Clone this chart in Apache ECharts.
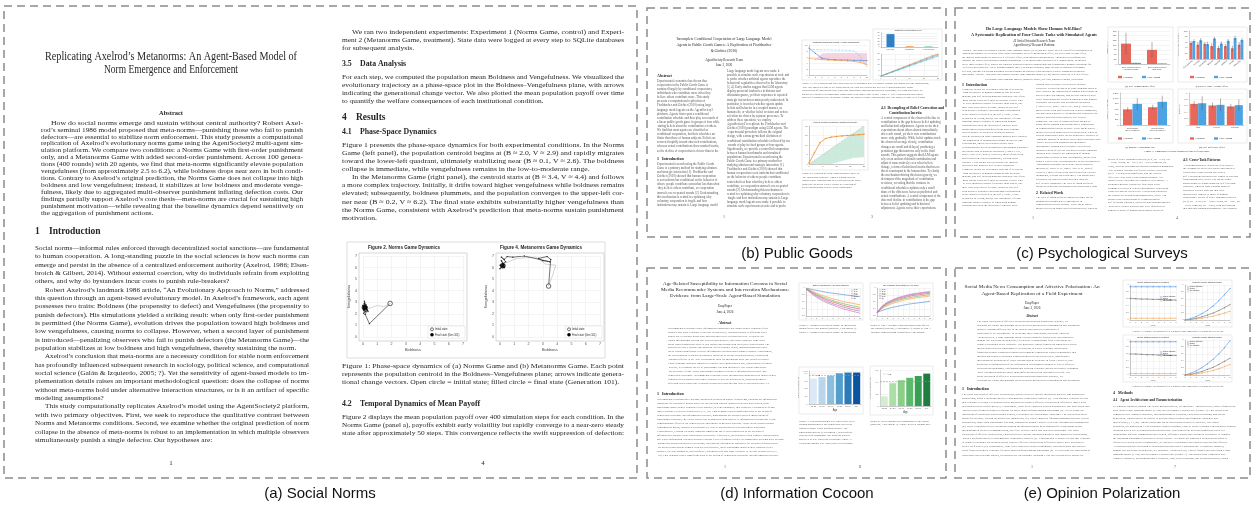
<!DOCTYPE html>
<html>
<head>
<meta charset="utf-8">
<title>Agent-based replication studies</title>
<script src="https://cdn.jsdelivr.net/npm/echarts@6.0.0/dist/echarts.min.js"></script>
<style>
html,body{margin:0;padding:0;background:#ffffff;}
#chart{width:1253px;height:510px;}
</style>
</head>
<body>
<div id="chart"></div>
<script>
// ===================== data =====================
// (a) Social Norms: population centroid per generation (Boldness, Vengefulness)
const phaseTicks = [0, 1, 2, 3, 4, 5, 6, 7];
const normsPath = [[1.9, 2.9], [0.45, 1.15], [0.15, 1.95], [0.3, 2.3], [0.05, 2.05], [0.2, 2.8], [0.35, 2.2], [0.1, 3.1], [0.05, 2.4], [0.3, 2.6], [0.15, 2.2], [0.0, 2.75], [0.25, 2.35], [0.1, 2.9], [0.05, 2.3], [0.2, 2.5], [0.1, 2.55]];
const normsDrift = [[1.9, 2.9], [1.45, 2.62], [1.0, 2.72], [0.6, 2.55], [0.3, 2.45]];
const metaPath = [[3.4, 4.4], [3.55, 6.7], [3.3, 6.95], [2.7, 6.8], [3.0, 6.6], [3.5, 6.5], [1.7, 7.0], [0.9, 6.9], [0.5, 6.95], [0.3, 6.7], [0.1, 6.9], [0.4, 6.5], [0.0, 6.2], [0.3, 6.0], [0.1, 6.6], [0.25, 6.3], [0.0, 5.9], [0.2, 6.15]];
const metaDrift = [[3.4, 4.4], [3.7, 5.4], [3.9, 6.2], [3.2, 6.3], [2.5, 6.9], [1.2, 6.8], [0.4, 6.4]];

// (b) Public Goods
const pgRounds = ['1', '2', '3', '4', '5', '6', '7', '8', '9', '10'];
const pgActual = [5.6, 5.3, 5.1, 5.0, 4.9, 4.8, 4.7, 4.5, 4.2, 3.4];
const pgBelief = [9.0, 7.2, 5.6, 5.2, 5.1, 5.0, 5.0, 4.9, 4.9, 4.8];
const pgPredicted = [8.6, 8.5, 8.4, 8.4, 8.3, 8.3, 8.2, 8.0, 6.2, 2.6];
const pgGapTop = [2.0, 4.6, 7.2, 7.3, 7.3, 7.3, 7.3, 7.3, 7.3, 7.3];
const pgTypes = ['Free rider', 'Conditional', 'Hump-shaped'];
const pgTypeShare = [46, 3, 2];
const pgOthers = [0, 2, 4, 6, 8, 10, 12, 14, 16, 18, 20];
const pgSchedHigh = [0, 2.1, 4.1, 6.2, 8.2, 10.3, 12.3, 14.4, 16.4, 18.5, 20];
const pgSchedMid = [0, 1.9, 3.9, 5.8, 7.7, 9.7, 11.6, 13.6, 15.5, 17.4, 19.3];
const pgSchedLow = [0, 1.8, 3.6, 5.4, 7.2, 9.0, 10.9, 12.7, 14.5, 16.3, 18.1];
const pgFig2Own = [0.5, 6.0, 11.2, 13.4, 14.1, 14.5, 14.8, 15.0, 15.2, 15.4, 15.6];
const pgFig2Upper = [0.5, 6.0, 11.2, 15.0, 17.2, 18.0, 18.3, 18.5, 18.7, 18.9, 19.0];

// (c) Psychological Surveys
const seCats = ['Self-enhancement\n(Cultural traits)', 'Self-enhancement\n(Big Two)'];
const seHumans = [108, 75], seHumansErr = [58, 42];
const seLLM = [6, 3], seLLMErr = [2, 1.5];
const sbCats = ['Competence', 'Morality', 'Sociability', 'Warmth', 'Agency', 'Intellect', 'Health', 'Attractive'];
const sbHumans = [57, 51, 54, 46, 39, 46, 38, 51], sbHumansErr = [8, 9, 7, 10, 9, 8, 10, 9];
const sbLLM = [64, 67, 53, 73, 55, 65, 75, 68], sbLLMErr = [7, 8, 9, 6, 8, 7, 8, 7];
const iatCats = ['Compatible\n(Self+Positive)', 'Incompatible\n(Self+Negative)'];
const iatHumans = [585, 665], iatHumansErr = [85, 95];
const iatLLM = [790, 870], iatLLMErr = [220, 230];
const srCats = ['Self', 'Friend', 'Familiar'];
const srHumans = [0.66, 0.61, 0.58], srHumansErr = [0.09, 0.09, 0.08];
const srLLM = [0.68, 0.63, 0.62], srLLMErr = [0.22, 0.2, 0.18];

// (d) Information Cocoon
const ageGroups = ['18-23', '24-30', '31-40', '41-50', '51-60', '60+'];
const cocoonRounds = ['0', '1', '2', '3', '4', '5', '6', '7', '8', '9', '10'];
const entropy1823 = [1.0, 0.96, 0.93, 0.9, 0.87, 0.85, 0.83, 0.81, 0.79, 0.77, 0.75];
const entropy2430 = [1.0, 0.92, 0.85, 0.79, 0.74, 0.69, 0.65, 0.61, 0.58, 0.55, 0.52];
const entropy3140 = [0.99, 0.9, 0.82, 0.75, 0.69, 0.64, 0.59, 0.55, 0.51, 0.48, 0.45];
const entropy4150 = [0.98, 0.88, 0.79, 0.72, 0.65, 0.6, 0.55, 0.5, 0.46, 0.43, 0.4];
const entropy5160 = [0.98, 0.86, 0.76, 0.68, 0.61, 0.55, 0.5, 0.45, 0.41, 0.37, 0.34];
const entropy60p = [0.97, 0.84, 0.73, 0.64, 0.57, 0.51, 0.45, 0.4, 0.36, 0.32, 0.28];
const top3c1823 = [0.3, 0.36, 0.41, 0.45, 0.48, 0.51, 0.54, 0.56, 0.58, 0.6, 0.62];
const top3c2430 = [0.3, 0.42, 0.5, 0.56, 0.61, 0.65, 0.68, 0.71, 0.73, 0.75, 0.77];
const top3c3140 = [0.3, 0.44, 0.53, 0.6, 0.65, 0.69, 0.72, 0.75, 0.77, 0.79, 0.81];
const top3c4150 = [0.3, 0.46, 0.56, 0.63, 0.68, 0.72, 0.76, 0.79, 0.81, 0.83, 0.85];
const top3c5160 = [0.3, 0.48, 0.58, 0.65, 0.71, 0.75, 0.79, 0.82, 0.84, 0.86, 0.88];
const top3c60p = [0.3, 0.49, 0.6, 0.67, 0.73, 0.77, 0.81, 0.84, 0.86, 0.88, 0.9];
const realDeepShare = [0.33, 0.35, 0.37, 0.40, 0.41, 0.41];
const realDeepAvg = 0.38;
const simDeepShare = [0.16, 0.38, 0.43, 0.47, 0.50, 0.54];
const simDeepAvg = 0.41;

// (e) Opinion Polarization
const weeks = ['0', '1', '2', '3', '4', '5', '6', '7', '8'];
const exposureTreat = [0.95, 0.95, 0.95, 0.95, 0.95, 0.95, 0.95, 0.95, 0.95];
const exposureControl = [0.62, 0.61, 0.6, 0.6, 0.59, 0.59, 0.58, 0.58, 0.57];
const exposureOther = [0.05, 0.05, 0.05, 0.05, 0.05, 0.05, 0.05, 0.05, 0.05];
const readTreat = [0, 0.04, 0.1, 0.18, 0.28, 0.4, 0.55, 0.72, 0.9];
const readControl = [0, 0.02, 0.05, 0.09, 0.14, 0.2, 0.27, 0.35, 0.44];
const readOther = [0, 0.01, 0.03, 0.05, 0.08, 0.11, 0.15, 0.2, 0.25];
const exposureTreat2 = [0.95, 0.95, 0.95, 0.95, 0.95, 0.95, 0.95, 0.95, 0.95];
const exposureControl2 = [0.6, 0.6, 0.59, 0.58, 0.58, 0.57, 0.57, 0.56, 0.56];
const exposureOther2 = [0.04, 0.04, 0.04, 0.04, 0.04, 0.04, 0.04, 0.04, 0.04];
const readTreat2 = [0, 0.05, 0.12, 0.21, 0.32, 0.45, 0.6, 0.78, 0.98];
const readControl2 = [0, 0.02, 0.06, 0.1, 0.16, 0.22, 0.3, 0.39, 0.48];
const readOther2 = [0, 0.01, 0.03, 0.06, 0.09, 0.13, 0.18, 0.24, 0.3];

// ===================== helpers =====================
const SERIF = '"Liberation Serif","Times New Roman",serif';
const SANS = '"Liberation Sans",Arial,sans-serif';
const INK = '#262626';
const G = [];
const mctx = document.createElement('canvas').getContext('2d');
function measure(s, size, wt, fam, st) {
  mctx.font = (st || 'normal') + ' ' + (wt || 'normal') + ' ' + size + 'px ' + (fam || SERIF);
  return mctx.measureText(s).width;
}
function T(x, y, s, size, o) {
  o = o || {};
  const fam = o.family || SERIF, wt = o.weight || 'normal', st = o.fontStyle || 'normal';
  const el = { type: 'text', x: x, y: y, silent: true, z: 20,
    style: { text: s, fontSize: size, fontFamily: fam, fontWeight: wt, fontStyle: st, fill: o.color || INK,
      textAlign: o.align || 'left', textVerticalAlign: 'middle' } };
  if (o.width) el.scaleX = o.width / measure(s, size, wt, fam, st);
  if (o.scale) el.scaleX = o.scale;
  G.push(el);
  return el;
}
function para(x, y, w, h, s, size, lh, o) {
  o = o || {};
  let t = s;
  const need = w * h / (0.4 * size * lh);
  while (t.length < need) t += ' ' + s;
  G.push({ type: 'text', x: x, y: y, silent: true, z: 20,
    style: { text: t, width: w, height: h, overflow: 'break', lineOverflow: 'truncate', lineHeight: lh,
      fontSize: size, fontFamily: o.family || SERIF, fill: o.color || '#575757', textAlign: 'left', textVerticalAlign: 'top' } });
}
function rect(x, y, w, h, stroke, lw, dash, fill) {
  G.push({ type: 'rect', silent: true, z: dash ? 30 : 1, shape: { x: x, y: y, width: w, height: h },
    style: { fill: fill || 'none', stroke: stroke, lineWidth: lw, lineDash: dash || null } });
}
function seg(x1, y1, x2, y2, stroke, lw, dash) {
  G.push({ type: 'line', silent: true, z: 21, shape: { x1: x1, y1: y1, x2: x2, y2: y2 }, style: { stroke: stroke, lineWidth: lw, lineDash: dash || null } });
}
function dot(cx, cy, r, fill, stroke) {
  G.push({ type: 'circle', silent: true, z: 21, shape: { cx: cx, cy: cy, r: r }, style: { fill: fill, stroke: stroke || null, lineWidth: 0.6 } });
}
// justified text lines; paragraphs = [{i: indent?, full: justify last line?, l: [lines]}]
function flow(paras, x0, x1, y0, lh, size, indent) {
  const scales = [];
  paras.forEach(p => p.l.forEach((s, k) => {
    const ind = (k === 0 && p.i) ? indent : 0;
    if (k < p.l.length - 1 || p.full) scales.push((x1 - x0 - ind) / measure(s, size));
  }));
  const avg = scales.reduce((a, b) => a + b, 0) / Math.max(1, scales.length);
  let y = y0;
  paras.forEach(p => p.l.forEach((s, k) => {
    const ind = (k === 0 && p.i) ? indent : 0;
    const last = k === p.l.length - 1 && !p.full;
    T(x0 + ind, y, s, size, last ? { scale: Math.min(avg, 1.15) } : { width: x1 - x0 - ind });
    y += lh;
  }));
}

// chart building blocks
const grids = [], xAxes = [], yAxes = [], series = [];
function merge(a, b) {
  const o = Object.assign({}, a);
  for (const k in b) {
    if (b[k] && typeof b[k] === 'object' && !Array.isArray(b[k]) && a[k] && typeof a[k] === 'object') o[k] = merge(a[k], b[k]);
    else o[k] = b[k];
  }
  return o;
}
function axisBase(i) {
  return { gridIndex: i, axisLine: { show: true, lineStyle: { color: '#9a9a9a', width: 0.5 } }, axisTick: { show: false },
    axisLabel: { fontSize: 2.6, color: '#555', margin: 1.5, fontFamily: SANS, interval: 0 },
    splitLine: { show: true, lineStyle: { color: '#e8e8e8', width: 0.5 } },
    nameTextStyle: { fontSize: 2.6, color: '#444', fontFamily: SANS } };
}
function addGrid(x, y, w, h, xa, ya) {
  const i = grids.length;
  grids.push({ left: x, top: y, width: w, height: h });
  xAxes.push(merge(axisBase(i), xa || {}));
  yAxes.push(merge(axisBase(i), ya || {}));
  return i;
}
function addSeries(i, s) { series.push(Object.assign({ xAxisIndex: i, yAxisIndex: i, silent: true, animation: false }, s)); }
function lineS(i, data, color, o) {
  addSeries(i, Object.assign({ type: 'line', data: data, symbol: 'none', lineStyle: { color: color, width: 0.6 }, itemStyle: { color: color } }, o || {}));
}
const pairs = (xs, ys) => xs.map((x, k) => [x, ys[k]]);
function barS(i, data, color, w) {
  addSeries(i, { type: 'bar', data: data, barWidth: w, barGap: '0%', itemStyle: { color: color } });
}
function errS(i, vals, errs, offset) {
  addSeries(i, { type: 'custom', z: 5, data: vals.map((v, k) => [k, v - errs[k], v + errs[k]]),
    renderItem: function (params, api) {
      const lo = api.coord([api.value(0), api.value(1)]);
      const hi = api.coord([api.value(0), api.value(2)]);
      const x = lo[0] + offset;
      return { type: 'line', shape: { x1: x, y1: lo[1], x2: x, y2: hi[1] }, style: { stroke: '#555', lineWidth: 0.45 } };
    } });
}

// ===================== panel frames and captions =====================
const DASH = [8, 5];
rect(4, 6, 633, 472, '#8c8c8c', 1.5, DASH);
rect(647, 8, 299, 229, '#8c8c8c', 1.5, DASH);
rect(955, 8, 295, 229, '#8c8c8c', 1.5, DASH);
rect(647, 268, 299, 210, '#8c8c8c', 1.5, DASH);
rect(955, 268, 295, 210, '#8c8c8c', 1.5, DASH);
T(320, 494, '(a) Social Norms', 15, { family: SANS, align: 'center', color: '#111' });
T(797, 254, '(b) Public Goods', 15, { family: SANS, align: 'center', color: '#111' });
T(1102, 254, '(c) Psychological Surveys', 15, { family: SANS, align: 'center', color: '#111' });
T(797, 494, '(d) Information Cocoon', 15, { family: SANS, align: 'center', color: '#111' });
T(1102, 494, '(e) Opinion Polarization', 15, { family: SANS, align: 'center', color: '#111' });

// ===================== (a) Social Norms, page 1 =====================
T(171, 57, 'Replicating Axelrod\u2019s Metanorms: An Agent-Based Model of', 12, { align: 'center', width: 252 });
T(171, 70, 'Norm Emergence and Enforcement', 12, { align: 'center', width: 134 });
T(171, 113, 'Abstract', 6.4, { align: 'center', weight: 'bold' });
flow([{ i: true, l: [
  'How do social norms emerge and sustain without central authority? Robert Axel-',
  'rod\u2019s seminal 1986 model proposed that meta-norms\u2014punishing those who fail to punish',
  'defectors\u2014are essential to stabilize norm enforcement. This study presents a computational',
  'replication of Axelrod\u2019s evolutionary norms game using the AgentSociety2 multi-agent sim-',
  'ulation platform. We compare two conditions: a Norms Game with first-order punishment',
  'only, and a Metanorms Game with added second-order punishment. Across 100 genera-',
  'tions (400 rounds) with 20 agents, we find that meta-norms significantly elevate population',
  'vengefulness (from approximately 2.5 to 6.2), while boldness drops near zero in both condi-',
  'tions. Contrary to Axelrod\u2019s original prediction, the Norms Game does not collapse into high',
  'boldness and low vengefulness; instead, it stabilizes at low boldness and moderate venge-',
  'fulness, likely due to aggregated multi-observer punishment inflating defection costs. Our',
  'findings partially support Axelrod\u2019s core thesis\u2014meta-norms are crucial for sustaining high',
  'punishment motivation\u2014while revealing that the baseline dynamics depend sensitively on',
  'the aggregation of punishment actions.'] }], 41, 303, 123, 6.95, 6.3, 10);
T(35, 232, '1', 9.5, { weight: 'bold' });
T(49, 232, 'Introduction', 9.5, { weight: 'bold' });
flow([
  { i: false, l: [
    'Social norms\u2014informal rules enforced through decentralized social sanctions\u2014are fundamental',
    'to human cooperation. A long-standing puzzle in the social sciences is how such norms can',
    'emerge and persist in the absence of a centralized enforcement authority (Axelrod, 1986; Elsen-',
    'broich & Gilbert, 2014). Without external coercion, why do individuals refrain from exploiting',
    'others, and why do bystanders incur costs to punish rule-breakers?'] },
  { i: true, l: [
    'Robert Axelrod\u2019s landmark 1986 article, \u201cAn Evolutionary Approach to Norms,\u201d addressed',
    'this question through an agent-based evolutionary model. In Axelrod\u2019s framework, each agent',
    'possesses two traits: Boldness (the propensity to defect) and Vengefulness (the propensity to',
    'punish defectors). His simulations yielded a striking result: when only first-order punishment',
    'is permitted (the Norms Game), evolution drives the population toward high boldness and',
    'low vengefulness, causing norms to collapse. However, when a second layer of punishment',
    'is introduced\u2014penalizing observers who fail to punish defectors (the Metanorms Game)\u2014the',
    'population stabilizes at low boldness and high vengefulness, thereby sustaining the norm.'] },
  { i: true, l: [
    'Axelrod\u2019s conclusion that meta-norms are a necessary condition for stable norm enforcement',
    'has profoundly influenced subsequent research in sociology, political science, and computational',
    'social science (Gal\u00e1n & Izquierdo, 2005; ?). Yet the sensitivity of agent-based models to im-',
    'plementation details raises an important methodological question: does the collapse of norms',
    'without meta-norms hold under alternative interaction structures, or is it an artifact of specific',
    'modeling assumptions?'] },
  { i: true, l: [
    'This study computationally replicates Axelrod\u2019s model using the AgentSociety2 platform,',
    'with two primary objectives. First, we seek to reproduce the qualitative contrast between',
    'Norms and Metanorms conditions. Second, we examine whether the original prediction of norm',
    'collapse in the absence of meta-norms is robust to an implementation in which multiple observers',
    'simultaneously punish a single defector. Our hypotheses are:'] }
], 35, 309, 248, 8.35, 6.9, 10);
T(171, 463, '1', 6.9, { align: 'center' });

// ===================== (a) Social Norms, page 4 =====================
flow([{ i: true, l: [
  'We ran two independent experiments: Experiment 1 (Norms Game, control) and Experi-',
  'ment 2 (Metanorms Game, treatment). State data were logged at every step to SQLite databases',
  'for subsequent analysis.'] }], 342, 624, 32, 8, 6.9, 10);
T(342, 64, '3.5', 7.8, { weight: 'bold' });
T(360, 64, 'Data Analysis', 7.8, { weight: 'bold' });
flow([{ i: false, l: [
  'For each step, we computed the population mean Boldness and Vengefulness. We visualized the',
  'evolutionary trajectory as a phase-space plot in the Boldness\u2013Vengefulness plane, with arrows',
  'indicating the generational change vector. We also plotted the mean population payoff over time',
  'to quantify the welfare consequences of each institutional condition.'] }], 342, 624, 77, 8, 6.9, 10);
T(342, 118, '4', 9.5, { weight: 'bold' });
T(356, 118, 'Results', 9.5, { weight: 'bold' });
T(342, 132, '4.1', 7.8, { weight: 'bold' });
T(360, 132, 'Phase-Space Dynamics', 7.8, { weight: 'bold' });
flow([
  { i: false, l: [
    'Figure 1 presents the phase-space dynamics for both experimental conditions. In the Norms',
    'Game (left panel), the population centroid begins at (B \u2248 2.0, V \u2248 2.9) and rapidly migrates',
    'toward the lower-left quadrant, ultimately stabilizing near (B \u2248 0.1, V \u2248 2.6). The boldness',
    'collapse is immediate, while vengefulness remains in the low-to-moderate range.'] },
  { i: true, l: [
    'In the Metanorms Game (right panel), the centroid starts at (B \u2248 3.4, V \u2248 4.4) and follows',
    'a more complex trajectory. Initially, it drifts toward higher vengefulness while boldness remains',
    'elevated; subsequently, boldness plummets, and the population converges to the upper-left cor-',
    'ner near (B \u2248 0.2, V \u2248 6.2). The final state exhibits substantially higher vengefulness than',
    'the Norms Game, consistent with Axelrod\u2019s prediction that meta-norms sustain punishment',
    'motivation.'] }
], 342, 624, 145, 8.1, 6.9, 10);
flow([{ i: false, l: [
  'Figure 1: Phase-space dynamics of (a) Norms Game and (b) Metanorms Game. Each point',
  'represents the population centroid in the Boldness\u2013Vengefulness plane; arrows indicate genera-',
  'tional change vectors. Open circle = initial state; filled circle = final state (Generation 101).'] }], 342, 624, 366, 8, 6.9, 10);
T(342, 404, '4.2', 7.8, { weight: 'bold' });
T(360, 404, 'Temporal Dynamics of Mean Payoff', 7.8, { weight: 'bold' });
flow([{ i: false, full: true, l: [
  'Figure 2 displays the mean population payoff over 400 simulation steps for each condition. In the',
  'Norms Game (panel a), payoffs exhibit early volatility but rapidly converge to a near-zero steady',
  'state after approximately 50 steps. This convergence reflects the swift suppression of defection:'] }], 342, 624, 417, 8, 6.9, 10);
T(483, 463, '4', 6.9, { align: 'center' });

// Figure 1 of page 4: two phase-space panels
rect(347, 242, 258, 116, '#c8c8c8', 0.6);
function phasePanel(px, title, path, drift) {
  const top = 253, w = 108, h = 88;
  rect(px, top, w, h, '#bdbdbd', 0.6);
  T(px + 45, 248, title, 4.6, { family: SANS, weight: 'bold', align: 'center' });
  const i = addGrid(px + 4, top + 3, w - 8, h - 7,
    { type: 'value', min: phaseTicks[0], max: phaseTicks[phaseTicks.length - 1], interval: 1, axisLine: { show: false },
      axisLabel: { fontSize: 3.6, margin: 5 }, name: 'Boldness', nameLocation: 'middle', nameGap: 11, nameTextStyle: { fontSize: 3.9 } },
    { type: 'value', min: phaseTicks[0], max: phaseTicks[phaseTicks.length - 1], interval: 1, axisLine: { show: false },
      axisLabel: { fontSize: 3.6, margin: 6 }, name: 'Vengefulness', nameLocation: 'middle', nameGap: 11, nameTextStyle: { fontSize: 3.9 } });
  lineS(i, drift, '#a8a8a8', { lineStyle: { color: '#a8a8a8', width: 0.5 } });
  lineS(i, path, '#1a1a1a', { symbol: 'circle', symbolSize: 1.3, lineStyle: { color: '#1a1a1a', width: 0.6 } });
  addSeries(i, { type: 'scatter', data: [path[0]], symbol: 'circle', symbolSize: 4.5, z: 4,
    itemStyle: { color: '#ffffff', borderColor: '#111', borderWidth: 0.8 } });
  addSeries(i, { type: 'scatter', data: [path[path.length - 1]], symbol: 'circle', symbolSize: 5.5, z: 4, itemStyle: { color: '#000' } });
  rect(px + 69, 326, 37, 12, '#cfcfcf', 0.4, null, '#ffffff');
  dot(px + 73, 329.3, 1.5, '#ffffff', '#111');
  dot(px + 73, 334.8, 1.8, '#000000');
  T(px + 76, 329.3, 'Initial state', 2.6, { family: SANS });
  T(px + 76, 334.8, 'Final state (Gen 101)', 2.6, { family: SANS });
}
phasePanel(359, 'Figure 2. Norms Game Dynamics', normsPath, normsDrift);
phasePanel(496, 'Figure 4. Metanorms Game Dynamics', metaPath, metaDrift);

// ===================== (b) Public Goods =====================
const pgAbs = 'Experimental economics has shown that cooperation in the Public Goods Game is sustained largely by conditional cooperators, individuals who contribute more when they believe others contribute more. This study presents a computational replication of Fischbacher and G\u00e4chter (2010) using large language model agents on the AgentSociety2 platform. Agents first report a conditional contribution schedule and then play ten rounds of a linear public goods game in groups of four while stating beliefs about the contributions of others. We find that most agents are classified as conditional cooperators, but their schedules are flatter than those of human subjects. Beliefs are corrected rapidly toward observed contributions, whereas actual contributions show marked inertia, so the decline of cooperation is slower than in the original experiment. These results show that LLM agents reproduce the qualitative pattern of imperfect conditional cooperation while differing in its dynamics, with implications for the use of artificial agents in behavioral research and the development of trustworthy simulation designs.';
const pgIntro = 'Experimental research using the Public Goods Game is a primary method for studying altruism and strategic interaction [1]. Fischbacher and G\u00e4chter (2010) showed that human cooperation is not uniform but conditional on the behavior of others: people contribute somewhat less than what they believe others contribute, so cooperation unravels over repeated rounds [2]. Understanding this mechanism is central to explaining why voluntary cooperation is fragile and how institutions may sustain it.';
const pgCol2 = 'Large language model agents now make it possible to simulate such experiments at scale and to probe whether artificial agents reproduce the behavioral regularities observed in the laboratory [3, 4]. Early studies suggest that LLM agents display prosocial tendencies in dictator and ultimatum games, yet their responses to repeated strategic interaction remain poorly understood. In particular, it is unclear whether agents update beliefs and behavior in a coupled manner, as humans do, or whether belief revision and action selection are driven by separate processes. To address these questions, we employ AgentSociety2 to replicate the Fischbacher and G\u00e4chter (2010) paradigm using LLM agents. The experimental procedure follows the original design, with a strategy-method elicitation of conditional contribution schedules followed by ten rounds of play in fixed groups of four agents. Significantly, we provide a controlled comparison between human benchmarks and simulated populations.';
const pgRight = 'A central component of the observed decline in contributions is the gap between belief updating and behavioral adjustment. Agents revise their expectations about others almost immediately after each round, yet their own contributions move only gradually. While belief updates track the observed average closely, contribution changes are small and delayed, producing a persistent gap that narrows only in the final rounds. This pattern suggests that LLM agents rely on an anchored default contribution and adjust it conservatively even when beliefs change, a form of behavioral inertia that has no direct counterpart in the human data. To clarify the mechanism driving this heterogeneity, we decomposed the magnitude of contribution revisions, revealing that the variance in conditional schedules explains only a small share of the difference between predicted and actual contributions.';
const pgCap1 = 'Figure 1: Left: Contribution trajectories and belief dynamics over 10 rounds. Orange line shows average contribution; blue line shows average belief about others; the pink area represents the belief-contribution gap. Right: Distribution of cooperation types (top) and conditional contribution schedules (bottom), revealing that nearly all agents are classified as conditional cooperators with slopes close to one.';
const pgCap2 = 'Figure 2: Evolution of actual contributions relative to the conditional schedule. Shaded regions indicate rounds where contributions fall below (green) or above (pink) the predicted values.';
T(724, 39, 'Incomplete Conditional Cooperation of Large Language Model', 4.4, { align: 'center', width: 95 });
T(724, 45, 'Agents in Public Goods Games: A Replication of Fischbacher', 4.4, { align: 'center', width: 95 });
T(724, 51, '& G\u00e4chter (2010)', 4.4, { align: 'center', scale: 95 / measure('Incomplete Conditional Cooperation of Large Language Model', 4.4) });
T(724, 60, 'AgentSociety Research Team', 3.2, { align: 'center' });
T(724, 65, 'June 2, 2026', 3.2, { align: 'center' });
T(657, 76, 'Abstract', 4, { weight: 'bold' });
para(657, 79, 63, 76, pgAbs, 3.1, 4.1);
T(657, 159, '1   Introduction', 4, { weight: 'bold' });
para(657, 162, 63, 49, pgIntro + ' ' + pgCol2, 3.1, 4.1);
para(727, 69, 63, 142, pgCol2 + ' ' + pgIntro, 3.1, 4.1);
T(724, 217, '1', 3, { align: 'center' });
// page 3 figures
rect(802, 40, 68, 40, '#d0d0d0', 0.5);
T(836, 42.5, 'Contribution and Belief Dynamics (Average across agents)', 1.8, { family: SANS, align: 'center' });
const pgA = addGrid(809, 45, 58, 30,
  { type: 'category', data: pgRounds, boundaryGap: false, axisLabel: { fontSize: 2 }, splitLine: { show: false } },
  { type: 'value', min: 0, max: 10, interval: 2, axisLabel: { fontSize: 2 } });
addSeries(pgA, { type: 'line', data: pgActual, stack: 'gap', symbol: 'none', lineStyle: { width: 0 }, areaStyle: { color: 'rgba(0,0,0,0)' } });
addSeries(pgA, { type: 'line', data: pgGapTop.map((v, k) => Math.max(0, v - pgActual[k])), stack: 'gap', symbol: 'none', lineStyle: { width: 0 }, areaStyle: { color: '#f3c4d6', opacity: 0.75 } });
lineS(pgA, pgPredicted, '#7fc6ee', { lineStyle: { color: '#7fc6ee', width: 0.6, type: 'dashed' } });
lineS(pgA, pgBelief, '#4a86d4', { symbol: 'circle', symbolSize: 1.2 });
lineS(pgA, pgActual, '#f2a043', { symbol: 'circle', symbolSize: 1.2 });
rect(873, 29, 69, 51, '#d0d0d0', 0.5);
T(908, 31, 'Distribution of Cooperation Types', 1.8, { family: SANS, align: 'center' });
const pgB = addGrid(881, 33, 57, 14,
  { type: 'category', data: pgTypes, axisLabel: { fontSize: 1.8 }, splitLine: { show: false } },
  { type: 'value', min: 0, max: 50, interval: 10, axisLabel: { fontSize: 1.8 } });
addSeries(pgB, { type: 'bar', barWidth: 8, data: pgTypeShare.map((v, k) => ({ value: v, itemStyle: { color: ['#2f7fc4', '#f0a050', '#5bb7aa'][k] } })) });
const pgC = addGrid(881, 54, 57, 22,
  { type: 'value', min: 0, max: 20, interval: 5, axisLabel: { fontSize: 1.8 } },
  { type: 'value', min: 0, max: 20, interval: 5, axisLabel: { fontSize: 1.8 } });
lineS(pgC, pairs(pgOthers, pgSchedHigh), '#f28e2b', { symbol: 'circle', symbolSize: 1 });
lineS(pgC, pairs(pgOthers, pgSchedMid), '#5b9bd5', { symbol: 'circle', symbolSize: 1 });
lineS(pgC, pairs(pgOthers, pgSchedLow), '#59c1c1', { symbol: 'circle', symbolSize: 1 });
para(802, 82, 140, 18, pgCap1, 2.7, 3.5);
T(881, 108, '4.3  Decoupling of Belief Correction and', 3.7, { weight: 'bold' });
T(889, 113, 'Contribution Inertia', 3.7, { weight: 'bold' });
para(881, 116, 61, 96, pgRight, 3.1, 4.1);
rect(802, 120, 66, 50, '#d0d0d0', 0.5);
T(835, 122.5, 'Actual vs. Predicted Contribution (Conditional Schedule)', 1.8, { family: SANS, align: 'center' });
const pgD = addGrid(809, 126, 55, 38,
  { type: 'value', min: 0, max: 20, interval: 5, axisLabel: { fontSize: 2 } },
  { type: 'value', min: 0, max: 20, interval: 5, axisLabel: { fontSize: 2 } });
addSeries(pgD, { type: 'line', data: pairs(pgOthers, pgFig2Own), stack: 'band', symbol: 'none', lineStyle: { width: 0 }, areaStyle: { color: 'rgba(0,0,0,0)' } });
addSeries(pgD, { type: 'line', data: pairs(pgOthers, pgFig2Upper.map((v, k) => v - pgFig2Own[k])), stack: 'band', symbol: 'none', lineStyle: { width: 0 }, areaStyle: { color: '#bfe6d3', opacity: 0.8 } });
lineS(pgD, pairs(pgOthers, pgOthers), '#b0b0b0', { lineStyle: { color: '#b0b0b0', width: 0.5, type: 'dashed' } });
lineS(pgD, pairs(pgOthers, pgFig2Own), '#f28e2b', { symbol: 'circle', symbolSize: 1.5, lineStyle: { color: '#f28e2b', width: 0.8 } });
para(802, 172, 66, 18, pgCap2, 2.7, 3.5);
T(872, 217, '3', 3, { align: 'center' });

// ===================== (c) Psychological Surveys =====================
const cAbs = 'Abstract. This study investigates whether large language model (LLM) agents exhibit the self-bias effects documented in human psychology. We replicate four classic paradigms, the self-enhancement effect, the better-than-average effect, the implicit association test and the self-reference effect, with simulated agents on the AgentSociety2 platform and compare the results with published human benchmarks. LLM agents show attenuated self-enhancement, an inflated better-than-average effect, slower but similarly structured implicit associations and a comparable memory advantage for self-referenced material. These findings suggest that LLM agents reproduce some but not all signatures of human self-bias, and that replication outcomes depend strongly on whether a task measures explicit judgments or implicit processing.';
const cIntro = 'Cognitive biases are systematic patterns of deviation from rationality in human judgment and decision making, and self-bias phenomena constitute one of the most robust clusters of such deviations. People tend to view themselves more favorably than others, rate their own traits above average, associate the self with positive attributes and remember information better when it is related to the self (Alicke, 1985; Sedikides & Gregg, 2008). The emergence of large language models capable of simulating human respondents raises the question of whether these agents inherit such tendencies from their training data or behave as idealized rational reporters. Recent advances in large language models have enabled the simulation of human participants in surveys and experiments, and several studies report close correspondence between simulated and human responses on attitude and personality measures (Argyle et al., 2023; Aher et al., 2023). However, most of this work has focused on explicit judgments, leaving open whether LLM agents also reproduce the implicit processes that underlie self-related cognition.';
const cRel = 'The idea of using artificial agents as stand-ins for human participants has a long history in computational social science. Early agent-based models relied on hand-coded decision rules, whereas current approaches draw on the generative capacity of language models to produce open-ended responses that can be scored with standard psychological instruments.';
const cLower = 'scores of close-ranking identities (Self, M = 0.72, SD = 0.08; Friend, M = 0.63, SD = 0.09; Familiar, M = 0.58), with an ordering that matches human benchmarks. The planned contrast test for the recency direction (Self - Friend) was significant, and the overall effect size was close to the human estimate. We classify these outcomes as Complete Divergence.';
const cCross = 'A striking regularity across the four tasks is the asymmetry between explicit and implicit replication. Tasks relying on explicit self-evaluations produced the largest deviations from human data, with LLM agents either suppressing or exaggerating the self-favoring tendency, whereas tasks tapping implicit processes yielded patterns that were qualitatively similar to those of human participants.';
T(1034, 29, 'Do Large Language Models Show Human Self-Bias?', 4.5, { align: 'center', weight: 'bold', width: 96 });
T(1034, 35, 'A Systematic Replication of Four Classic Tasks with Simulated Agents', 4.5, { align: 'center', weight: 'bold', width: 126 });
T(1034, 41.5, 'AI Social Scientist Research Team', 3, { align: 'center' });
T(1034, 45.5, 'AgentSociety2 Research Platform', 3, { align: 'center' });
para(962, 48.5, 143, 28, cAbs, 2.7, 3.45);
T(1034, 79.5, 'Keywords: large language models, cognitive biases, self-bias, simulated agents, replication', 2.7, { align: 'center', color: '#555' });
T(962, 84.5, '1  Introduction', 3.9, { weight: 'bold' });
para(962, 87, 69, 124, cIntro, 2.9, 3.65);
para(1036, 82.5, 69, 108, cIntro.slice(600) + ' ' + cRel, 2.9, 3.65);
T(1036, 193, '2  Related Work', 3.9, { weight: 'bold' });
para(1036, 195.5, 69, 16, cRel, 2.9, 3.65);
T(1033, 218, '1', 3, { align: 'center' });

const HUM = '#e8675b', LLMC = '#4ba3e3';
function cLegend(cx, y) {
  rect(cx - 22, y - 1.2, 4, 2.4, null, 0, null, HUM);
  T(cx - 16.5, y, 'Humans', 2.4, { family: SANS });
  rect(cx + 2, y - 1.2, 4, 2.4, null, 0, null, LLMC);
  T(cx + 7.5, y, 'LLM Agents', 2.4, { family: SANS });
}
rect(1108, 27, 65, 55, '#d6d6d6', 0.5);
rect(1178, 27, 69, 55, '#d6d6d6', 0.5);
rect(1108, 89, 65, 54, '#d6d6d6', 0.5);
rect(1178, 89, 69, 54, '#d6d6d6', 0.5);
const cA = addGrid(1118, 31, 52, 33,
  { type: 'category', data: seCats, axisLabel: { fontSize: 2.3, lineHeight: 2.8 }, splitLine: { show: false } },
  { type: 'value', min: 0, max: 175, interval: 25, axisLabel: { fontSize: 2.3 }, name: 'Effect (a.u.)', nameLocation: 'middle', nameGap: 7, nameTextStyle: { fontSize: 2.3 } });
barS(cA, seHumans, HUM, 10); barS(cA, seLLM, LLMC, 10);
errS(cA, seHumans, seHumansErr, -5); errS(cA, seLLM, seLLMErr, 5);
const cB = addGrid(1189, 31, 55, 28,
  { type: 'category', data: sbCats, axisLabel: { fontSize: 2.1, rotate: 40 }, splitLine: { show: false } },
  { type: 'value', min: 0, max: 100, interval: 20, axisLabel: { fontSize: 2.3 }, name: 'Percentile (self vs. other)', nameLocation: 'middle', nameGap: 7, nameTextStyle: { fontSize: 2.1 } });
barS(cB, sbHumans, HUM, 2.8); barS(cB, sbLLM, LLMC, 2.8);
errS(cB, sbHumans, sbHumansErr, -1.4); errS(cB, sbLLM, sbLLMErr, 1.4);
const cC = addGrid(1120, 93, 50, 32,
  { type: 'category', data: iatCats, axisLabel: { fontSize: 2.3, lineHeight: 2.8 }, splitLine: { show: false } },
  { type: 'value', min: 0, max: 1200, interval: 200, axisLabel: { fontSize: 2.3 }, name: 'Reaction Time (ms)', nameLocation: 'middle', nameGap: 9, nameTextStyle: { fontSize: 2.3 } });
barS(cC, iatHumans, HUM, 9.5); barS(cC, iatLLM, LLMC, 9.5);
errS(cC, iatHumans, iatHumansErr, -4.75); errS(cC, iatLLM, iatLLMErr, 4.75);
const cD = addGrid(1189, 93, 55, 32,
  { type: 'category', data: srCats, axisLabel: { fontSize: 2.3 }, splitLine: { show: false } },
  { type: 'value', min: 0, max: 1.0, interval: 0.2, axisLabel: { fontSize: 2.3 }, name: 'Proportion', nameLocation: 'middle', nameGap: 7, nameTextStyle: { fontSize: 2.3 } });
barS(cD, srHumans, HUM, 8); barS(cD, srLLM, LLMC, 8);
errS(cD, srHumans, srHumansErr, -4); errS(cD, srLLM, srLLMErr, 4);
cLegend(1140, 77); cLegend(1212, 77); cLegend(1140, 138.5); cLegend(1212, 138.5);
T(1140, 86, '(a) Self-Enhancement Effect', 2.6, { align: 'center' });
T(1212, 86, '(b) Better-Than-Average Effect', 2.6, { align: 'center' });
T(1140, 147, '(c) Implicit Association Test', 2.6, { align: 'center' });
T(1212, 147, '(d) Self-Reference Effect', 2.6, { align: 'center' });
T(1177, 151.5, 'Figure 1: Comparative results across the four self-bias tasks.', 2.7, { align: 'center' });
para(1108, 157, 70, 55, cLower + ' ' + cCross, 2.9, 3.65);
T(1183, 160.5, '4.3  Cross-Task Patterns', 3.6, { weight: 'bold' });
para(1183, 163, 64, 49, cCross + ' ' + cLower, 2.9, 3.65);
T(1177, 218, '4', 3, { align: 'center' });

// ===================== (d) Information Cocoon =====================
const dAbs = 'Recommender systems create information landscapes but inadvertently construct filter bubbles that limit exposure to diverse perspectives, disproportionately affecting older adults due to distinct behavioral patterns and lower exploration rates. To isolate the causal mechanisms driving age-related susceptibility, this study employs large-scale agent-based simulation with 10,000 agents interacting with an 80,000-item catalog. The analysis reveals a distinct age gradient in filter bubble depth, demonstrating that older users exhibit significantly deeper information cocoons than younger cohorts. Furthermore, the investigation evaluates serendipity injection as an intervention strategy, identifying optimal efficacy at 20-30% replacement rates for mitigating these age-stratified biases. These findings establish empirical evidence that chronological age, independent of digital literacy, is a primary driver of algorithmic filtering inequities. The results underscore the necessity of age-aware algorithmic designs to preserve information diversity and democratic discourse.';
const dIntro = 'Recommender systems have become ubiquitous in modern digital ecosystems, curating the information landscape for billions of global users. By prioritizing content aligned with user preferences, these algorithms inadvertently construct filter bubbles, or echo chambers, that reinforce existing beliefs and limit exposure to diverse perspectives [11, 18]. This dynamic poses significant risks to the health of democratic discourse and information diversity, highlighting the broader societal implications of algorithmic curation [14]. Older adults face heightened vulnerability to information cocoons due to the compounding effects of the digital divide and unique behavioral patterns. These users exhibit distinct consumption habits, characterized notably by lower exploration rates within digital platforms. Consequently, existing literature suggests significant age-related disparities in the breadth of information exposure these individuals experience. Conversely, prior studies often conflate chronological age with confounding variables such as varying levels of digital literacy.';
const dCap1 = 'Figure 1: Entropy trajectories across 10 interaction rounds for six age groups (Baseline, Experiment 1).';
const dCap2 = 'Figure 2: Top-3 category concentration trends for six age groups (Baseline, Experiment 1).';
const dCap3 = 'Figure 3: Validation against real-world data: deep cocoon proportion by age group observed in an empirical short-video platform dataset. The simulation baseline (Experiment 1) successfully replicates the monotonic age-gradient pattern observed in real-world user behavior.';
const dCap4 = 'Figure 4: Deep cocoon user proportion by age group (Baseline, Experiment 1).';
T(725, 284, 'Age-Related Susceptibility to Information Cocoons in Social', 4.5, { align: 'center', width: 124 });
T(725, 290, 'Media Recommender Systems and Intervention Mechanisms:', 4.5, { align: 'center', width: 128 });
T(725, 296, 'Evidence from Large-Scale Agent-Based Simulation', 4.5, { align: 'center', width: 110 });
T(725, 306, 'EasyPaper', 3.3, { align: 'center' });
T(725, 312, 'June 4, 2026', 3.3, { align: 'center' });
T(725, 323, 'Abstract', 3.5, { align: 'center', weight: 'bold' });
para(668, 326, 116, 62, dAbs, 2.9, 3.95);
T(657, 393.5, '1   Introduction', 4, { weight: 'bold' });
para(657, 397, 136, 62, dIntro, 2.9, 4.05);
T(725, 467, '1', 3, { align: 'center' });

const AGE_COLORS = ['#5b9bd5', '#ff9f4a', '#6cc06c', '#e0605a', '#a27fcf', '#d07ab8'];
function ageLegend(x, y) {
  ageGroups.forEach((g, k) => {
    seg(x, y + k * 1.7, x + 2.5, y + k * 1.7, AGE_COLORS[k], 0.5);
    T(x + 3, y + k * 1.7, g, 1.4, { family: SANS });
  });
}
rect(799, 283, 64, 37, '#d6d6d6', 0.5);
T(831, 285.5, 'Entropy Trajectories by Age Group (Baseline)', 1.8, { family: SANS, align: 'center' });
const dA = addGrid(806, 288, 54, 28,
  { type: 'category', data: cocoonRounds, boundaryGap: false, axisLabel: { fontSize: 1.8 }, splitLine: { show: true } },
  { type: 'value', min: 0.2, max: 1.0, interval: 0.2, axisLabel: { fontSize: 1.8 } });
[entropy1823, entropy2430, entropy3140, entropy4150, entropy5160, entropy60p].forEach((d, k) => lineS(dA, d, AGE_COLORS[k], { lineStyle: { color: AGE_COLORS[k], width: 0.7 } }));
ageLegend(851, 290);
rect(870, 283, 63, 37, '#d6d6d6', 0.5);
T(901, 285.5, 'Top-3 Category Concentration by Age Group', 1.8, { family: SANS, align: 'center' });
const dB = addGrid(877, 288, 53, 28,
  { type: 'category', data: cocoonRounds, boundaryGap: false, axisLabel: { fontSize: 1.8 }, splitLine: { show: true } },
  { type: 'value', min: 0.2, max: 1.0, interval: 0.2, axisLabel: { fontSize: 1.8 } });
[top3c1823, top3c2430, top3c3140, top3c4150, top3c5160, top3c60p].forEach((d, k) => lineS(dB, d, AGE_COLORS[k], { lineStyle: { color: AGE_COLORS[k], width: 0.7 } }));
ageLegend(879, 290);
para(799, 323, 66, 13, dCap1, 2.8, 3.7);
para(870, 323, 66, 13, dCap2, 2.8, 3.7);

const BLUES = ['#dbe9f6', '#bad6eb', '#89bedc', '#539ecd', '#2b7bba', '#0b559f'];
const GREENS = ['#d3eecd', '#aedea7', '#8ace88', '#5db96b', '#37a055', '#1d7e40'];
rect(799, 367, 64, 47, '#d6d6d6', 0.5);
const dC = addGrid(809, 371, 52, 33,
  { type: 'category', data: ageGroups, axisLabel: { fontSize: 2.1 }, splitLine: { show: false }, name: 'Age', nameLocation: 'middle', nameGap: 5, nameTextStyle: { fontSize: 2.6 } },
  { type: 'value', min: 0, max: 0.43, interval: 0.1, axisLabel: { fontSize: 2.1 }, name: 'Proportion of Deep IC', nameLocation: 'middle', nameGap: 6, nameTextStyle: { fontSize: 2.2 } });
addSeries(dC, { type: 'bar', barWidth: '82%', data: realDeepShare.map((v, k) => ({ value: v, itemStyle: { color: BLUES[k] } })),
  markLine: { silent: true, symbol: 'none', label: { show: false }, lineStyle: { color: '#999', type: 'dashed', width: 0.5 }, data: [{ yAxis: realDeepAvg }] } });
seg(812, 375, 815, 375, '#999', 0.5, [1, 0.6]);
T(816, 375, 'Avg', 2.3, { family: SANS });
rect(870, 366, 63, 49, '#d6d6d6', 0.5);
const dD = addGrid(880, 370, 51, 36,
  { type: 'category', data: ageGroups, axisLabel: { fontSize: 2.1 }, splitLine: { show: false }, name: 'Age', nameLocation: 'middle', nameGap: 5, nameTextStyle: { fontSize: 2.6 } },
  { type: 'value', min: 0, max: 0.6, interval: 0.2, axisLabel: { fontSize: 2.1 }, name: 'Proportion of Deep IC', nameLocation: 'middle', nameGap: 6, nameTextStyle: { fontSize: 2.2 } });
addSeries(dD, { type: 'bar', barWidth: '82%', data: simDeepShare.map((v, k) => ({ value: v, itemStyle: { color: GREENS[k] } })),
  markLine: { silent: true, symbol: 'none', label: { show: false }, lineStyle: { color: '#999', type: 'dashed', width: 0.5 }, data: [{ yAxis: simDeepAvg }] } });
seg(883, 374, 886, 374, '#999', 0.5, [1, 0.6]);
T(887, 374, 'Avg', 2.3, { family: SANS });
para(799, 419, 66, 27, dCap3, 2.8, 3.7);
para(870, 419, 66, 9, dCap4, 2.8, 3.7);
T(860, 467, '11', 3, { align: 'center' });

// ===================== (e) Opinion Polarization =====================
const eAbs = 'The rapid escalation of affective polarization threatens democratic stability, yet isolating the causal mechanisms between social media news consumption and intergroup hostility remains difficult due to the ethical and practical constraints of traditional field experiments. To overcome these limitations, this study employs AgentSociety2, a large language model-driven cognitive architecture that simulates human-like social media behavior, to replicate a longitudinal field experiment on counter-attitudinal news exposure. The generative agent framework simulates realistic interactions between algorithmic feed curation, selective exposure and attitude formation within a simulated digital environment. Simulation results demonstrate that introducing counter-attitudinal subscriptions alters user news diets, significantly increasing the proportion of cross-cutting content available in feeds. However, this structural reconfiguration of the information environment ultimately leaves affective polarization unchanged, confirming that partisan exposure and social identity dynamics drive intergroup hostility more than shifts in underlying ideological beliefs.';
const eIntro = 'The rapid escalation of affective polarization, characterized by intense intergroup hostility and democratic backsliding, poses a profound threat to contemporary democratic stability [9]. Experimental evidence reveals that exposure to counter-attitudinal social media news reduces affective polarization differently than it does ideological policy preferences [6]. Furthermore, large-scale empirical studies demonstrate that individuals and choices result from ideological exposure far more than platform ranking algorithms [8]. To overcome the limitations of traditional observational studies, researchers are increasingly adopting LLM-driven generative agents for scalable, bottom-up behavioral simulation [10]. These empirical findings highlight that user-driven segregation, rather than algorithmic filtering, remains the primary barrier to diverse information consumption [4]. While traditional field experiments remain the methodological gold standard for establishing causal mechanisms in political communication, they face critical ethical and practical constraints.';
const eMeth = 'To simulate nuanced, human-like social media behavior, we introduce AgentSociety2, a novel framework built upon a large language model (LLM)-driven cognitive architecture (Figure 1). This architecture comprises core cognitive modules, including memory retention, contextual reasoning, and action generation, which operate in concert to process digital content and formulate authentic user interactions [1, 13, 26]. Unlike traditional agent-based models that rely on static, rule-based heuristics, the underlying LLM backbone enables dynamic, context-aware responses and nuanced opinion updating driven by evolving network interactions. This framework provides significant value for longitudinal political communication research, offering a robust and ecological alternative to enhance the emerging paradigm of generative social science. To ensure the simulated population accurately reflects real-world political landscapes, we initialize each agent\u2019s ideological position and affective evaluation baseline according to established national survey distributions.';
T(1032, 287, 'Social Media News Consumption and Affective Polarization: An', 4.6, { align: 'center', width: 135 });
T(1032, 294, 'Agent-Based Replication of a Field Experiment', 4.6, { align: 'center', width: 101 });
T(1032, 303, 'EasyPaper', 3.3, { align: 'center' });
T(1032, 308.5, 'June 3, 2026', 3.3, { align: 'center' });
T(1032, 316, 'Abstract', 3.5, { align: 'center', weight: 'bold', fontStyle: 'italic' });
para(977, 319, 111, 64, eAbs, 2.9, 3.95);
T(962, 389, '1   Introduction', 4, { weight: 'bold' });
para(962, 392, 143, 67, eIntro, 2.9, 4.05);
T(1032, 467, '1', 3, { align: 'center' });

const EB = '#4a90e2', EG = '#6e6e6e', EO = '#f5a04a';
function polarFigure(top, exA, exB, exC, rdA, rdB, rdC) {
  rect(1123, top, 109, 47, '#d6d6d6', 0.5);
  T(1153, top + 2.5, 'Counter-attitudinal Exposure by Treatment', 1.7, { family: SANS, align: 'center' });
  T(1207, top + 2.5, 'Cumulative Counter-attitudinal Reading', 1.7, { family: SANS, align: 'center' });
  const l = addGrid(1130, top + 5, 46, 35,
    { type: 'category', data: weeks, boundaryGap: false, axisLabel: { fontSize: 1.8 }, name: 'Week', nameLocation: 'middle', nameGap: 3.5, nameTextStyle: { fontSize: 1.8 } },
    { type: 'value', min: 0, max: 1, interval: 0.2, axisLabel: { fontSize: 1.8 } });
  lineS(l, exA, EB, { symbol: 'circle', symbolSize: 1.2 });
  lineS(l, exB, EG, { symbol: 'circle', symbolSize: 1.2 });
  lineS(l, exC, EO, { symbol: 'circle', symbolSize: 1.2 });
  const r = addGrid(1185, top + 5, 45, 35,
    { type: 'category', data: weeks, boundaryGap: false, axisLabel: { fontSize: 1.8 }, name: 'Week', nameLocation: 'middle', nameGap: 3.5, nameTextStyle: { fontSize: 1.8 } },
    { type: 'value', min: 0, max: 1, interval: 0.2, axisLabel: { fontSize: 1.8 } });
  lineS(r, rdA, EB, { symbol: 'circle', symbolSize: 1 });
  lineS(r, rdB, EG, { symbol: 'circle', symbolSize: 1 });
  lineS(r, rdC, EO, { symbol: 'circle', symbolSize: 1 });
  [['Counter-attitudinal', EB], ['Control', EG], ['Pro-attitudinal', EO]].forEach((e, k) => {
    seg(1160, top + 17 + k * 2, 1162.5, top + 17 + k * 2, e[1], 0.6);
    T(1163, top + 17 + k * 2, e[0], 1.5, { family: SANS });
    seg(1187, top + 7 + k * 2, 1189.5, top + 7 + k * 2, e[1], 0.6);
    T(1190, top + 7 + k * 2, e[0], 1.5, { family: SANS });
  });
}
polarFigure(280, exposureTreat, exposureControl, exposureOther, readTreat, readControl, readOther);
T(1178, 331, 'Figure 1: Counter-attitudinal feed exposure and cumulative reading over 8 weeks', 2.8, { align: 'center', color: '#555' });
polarFigure(335, exposureTreat2, exposureControl2, exposureOther2, readTreat2, readControl2, readOther2);
T(1178, 386, 'Figure 2: Counter-attitudinal feed exposure and cumulative reading over 8 weeks', 2.8, { align: 'center', color: '#555' });
T(1113, 393, '4   Methods', 4, { weight: 'bold' });
T(1113, 400.5, '4.1   Agent Architecture and Parameterization', 3.5, { weight: 'bold' });
para(1113, 404, 134, 58, eMeth, 2.9, 4.05);
T(1175, 467, '7', 3, { align: 'center' });

// ===================== render =====================
const chart = echarts.init(document.getElementById('chart'), null, { renderer: 'canvas' });
chart.setOption({
  animation: false,
  backgroundColor: '#ffffff',
  textStyle: { fontFamily: SANS },
  grid: grids,
  xAxis: xAxes,
  yAxis: yAxes,
  series: series,
  graphic: { elements: G }
});
</script>
</body>
</html>
